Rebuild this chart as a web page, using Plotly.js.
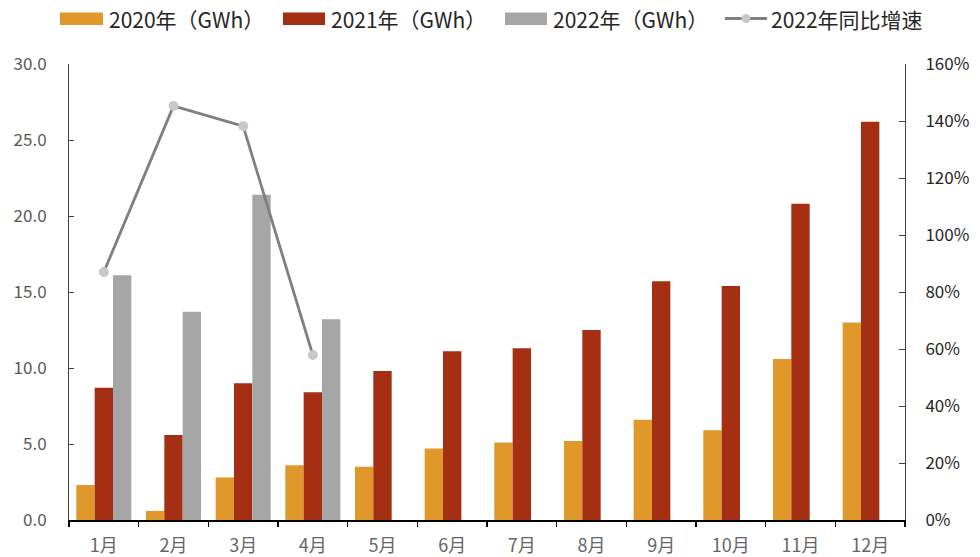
<!DOCTYPE html>
<html>
<head>
<meta charset="utf-8">
<script src="https://cdn.plot.ly/plotly-3.0.1.min.js"></script>
<style>
  html, body { margin: 0; padding: 0; background: #fff; }
  #chart { width: 980px; height: 557px; }
</style>
</head>
<body>
<div id="chart"></div>
<script>
// Monthly output (GWh) and 2022 year-on-year growth
const months = ['1月', '2月', '3月', '4月', '5月', '6月', '7月', '8月', '9月', '10月', '11月', '12月'];
const gwh2020 = [2.3, 0.6, 2.8, 3.6, 3.5, 4.7, 5.1, 5.2, 6.6, 5.9, 10.6, 13.0];
const gwh2021 = [8.7, 5.6, 9.0, 8.4, 9.8, 11.1, 11.3, 12.5, 15.7, 15.4, 20.8, 26.2];
const gwh2022 = [16.1, 13.7, 21.4, 13.2, null, null, null, null, null, null, null, null];
const growth2022 = [0.87, 1.453, 1.382, 0.579, null, null, null, null, null, null, null, null];

const seriesNames = ['2020年（GWh）', '2021年（GWh）', '2022年（GWh）', '2022年同比增速'];
const colors = ['#E0982A', '#A52F12', '#A6A6A6', '#7F7F7F'];

const FONT = '"Noto Sans CJK SC", "Microsoft YaHei", sans-serif';
const TICK_COLOR = '#595959';

const traces = [
  { type: 'bar', name: seriesNames[0], x: months, y: gwh2020, marker: { color: colors[0] } },
  { type: 'bar', name: seriesNames[1], x: months, y: gwh2021, marker: { color: colors[1] } },
  { type: 'bar', name: seriesNames[2], x: months, y: gwh2022, marker: { color: colors[2] } },
  {
    type: 'scatter', mode: 'lines+markers', name: seriesNames[3],
    x: months, y: growth2022, yaxis: 'y2',
    line: { color: colors[3], width: 2.8 },
    marker: { color: '#C8C8C8', size: 10 }
  }
];

// Plot area in pixels, used to place the hand-drawn legend row
const W = 980, H = 557;
const M = { l: 69, r: 75, t: 64, b: 37 };
const plotW = W - M.l - M.r, plotH = H - M.t - M.b;
const px = x => (x - M.l) / plotW;
const py = y => (H - M.b - y) / plotH;

const legendItems = [
  { swatch: [60, 103], text: 107, kind: 'bar', idx: 0 },
  { swatch: [283, 325], text: 329, kind: 'bar', idx: 1 },
  { swatch: [505, 547], text: 551, kind: 'bar', idx: 2 },
  { swatch: [725, 767], text: 769, kind: 'line', idx: 3 }
];

const shapes = [];
const annotations = [];
legendItems.forEach(it => {
  if (it.kind === 'bar') {
    shapes.push({
      type: 'rect', xref: 'paper', yref: 'paper',
      x0: px(it.swatch[0]), x1: px(it.swatch[1]), y0: py(25), y1: py(12.5),
      fillcolor: colors[it.idx], line: { width: 0 }
    });
  } else {
    shapes.push({
      type: 'line', xref: 'paper', yref: 'paper',
      x0: px(it.swatch[0]), x1: px(it.swatch[1]), y0: py(18.5), y1: py(18.5),
      line: { color: colors[it.idx], width: 2.8 }
    });
    const cx = (it.swatch[0] + it.swatch[1]) / 2;
    shapes.push({
      type: 'circle', xref: 'paper', yref: 'paper',
      x0: px(cx - 4.5), x1: px(cx + 4.5), y0: py(23), y1: py(14),
      fillcolor: '#C8C8C8', line: { width: 0 }
    });
  }
  annotations.push({
    xref: 'paper', yref: 'paper', x: px(it.text), y: py(18.5),
    xanchor: 'left', yanchor: 'middle', showarrow: false,
    text: seriesNames[it.idx],
    font: { family: FONT, size: 21, color: '#262626' }
  });
});

const layout = {
  width: W, height: H,
  margin: M,
  paper_bgcolor: '#fff', plot_bgcolor: '#fff',
  showlegend: false,
  barmode: 'group',
  bargap: 0.21,
  bargroupgap: 0,
  font: { family: FONT, color: TICK_COLOR },
  xaxis: {
    type: 'category',
    range: [-0.5, months.length - 0.5],
    tickson: 'boundaries',
    ticks: 'outside', ticklen: 5, tickcolor: '#000', tickwidth: 1.5,
    showline: true, linecolor: '#000', linewidth: 1.5,
    showgrid: false, zeroline: false,
    tickfont: { family: FONT, size: 18, color: '#666666' },
    ticklabelstandoff: 9
  },
  yaxis: {
    range: [0, 30], dtick: 5, tickformat: '.1f',
    ticks: 'inside', ticklen: 5, tickcolor: '#404040',
    showline: true, linecolor: '#404040', linewidth: 1,
    showgrid: false, zeroline: false,
    tickfont: { family: FONT, size: 17, color: TICK_COLOR },
    ticklabelstandoff: 18
  },
  yaxis2: {
    overlaying: 'y', side: 'right',
    range: [0, 1.6], dtick: 0.2, tickformat: '.0%',
    ticks: 'inside', ticklen: 6, tickcolor: '#404040',
    showline: true, linecolor: '#404040', linewidth: 1,
    showgrid: false, zeroline: false,
    tickfont: { family: FONT, size: 17, color: '#262626' },
    ticklabelstandoff: 16
  },
  shapes: shapes,
  annotations: annotations
};

Plotly.newPlot('chart', traces, layout, { displayModeBar: false, staticPlot: true });
</script>
</body>
</html>
